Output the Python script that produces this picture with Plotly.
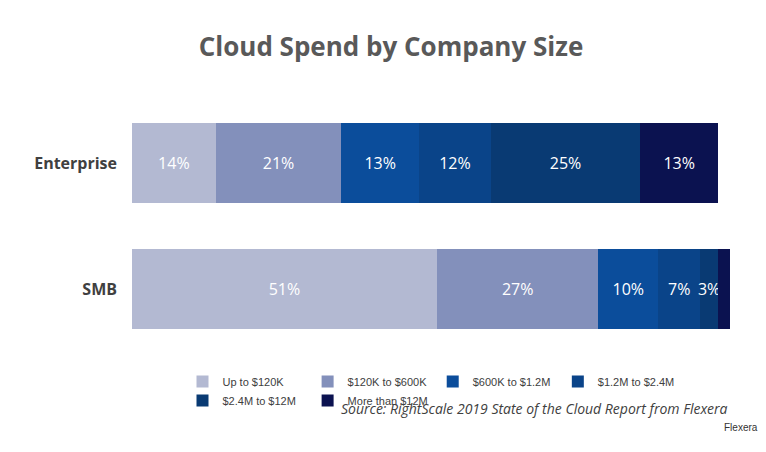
import plotly.graph_objects as go

companies = ["SMB", "Enterprise"]
bands = ["Up to $120K", "$120K to $600K", "$600K to $1.2M",
         "$1.2M to $2.4M", "$2.4M to $12M", "More than $12M"]
smb = [51, 27, 10, 7, 3, 2]
enterprise = [14, 21, 13, 12, 25, 13]
colors = ["#b3b9d2", "#8390bb", "#0b4d9b", "#0a4489", "#093a73", "#0b1250"]

fig = go.Figure()
for i, band in enumerate(bands):
    vals = [smb[i], enterprise[i]]
    txt = [f"{v}%" if v >= 3 else "" for v in vals]
    fig.add_trace(go.Bar(
        y=companies, x=vals, name=band, orientation="h",
        marker=dict(color=colors[i], line=dict(width=0)),
        text=txt, textposition="inside", insidetextanchor="middle", textangle=0,
        textfont=dict(color="white", size=16, family="Open Sans"),
        cliponaxis=False,
    ))

fig.update_layout(
    barmode="stack", bargap=0.36,
    width=766, height=452,
    paper_bgcolor="white", plot_bgcolor="white",
    margin=dict(l=124, r=44, t=92, b=108),
    title=dict(text="<b>Cloud Spend by Company Size</b>", x=0.5, y=0.935,
               xanchor="center", font=dict(size=26, color="#595959", family="Open Sans")),
    xaxis=dict(range=[0, 100], visible=False),
    yaxis=dict(tickfont=dict(size=16, color="#404040", family="Open Sans"),
               ticklabelstandoff=14, showgrid=False, tickprefix="<b>", ticksuffix="</b>"),
    legend=dict(orientation="h", x=0.5, xanchor="center", y=-0.06, yanchor="top",
                font=dict(size=11, color="#404040", family="Liberation Sans"),
                itemwidth=30, entrywidth=0, entrywidthmode="pixels",
                tracegroupgap=0, traceorder="normal"),
    showlegend=True, uniformtext=dict(minsize=12, mode="show"),
)
fig.add_annotation(text="<i>Source: RightScale 2019 State of the Cloud Report from Flexera</i>",
                   xref="paper", yref="paper", x=1.0, y=-0.27, xanchor="right",
                   showarrow=False, font=dict(size=14, color="#404040", family="Open Sans"))
fig.add_annotation(text="Flexera", xref="paper", yref="paper", x=1.05, y=-0.33,
                   xanchor="right", showarrow=False, font=dict(size=10, color="#333", family="Liberation Sans"))
fig.write_html("out.html")
